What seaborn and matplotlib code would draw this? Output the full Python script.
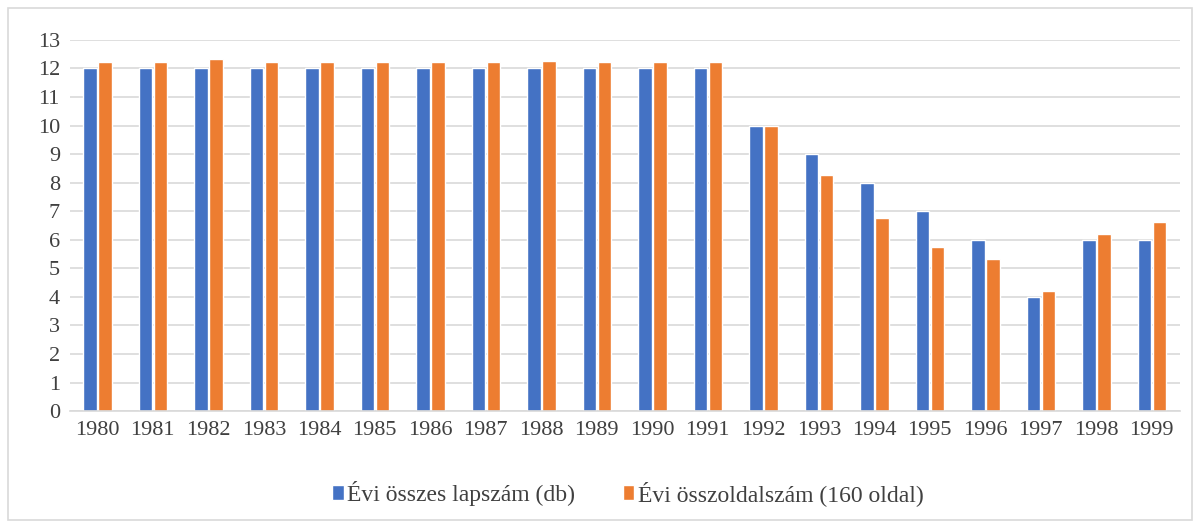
import matplotlib
matplotlib.use("Agg")
import matplotlib.pyplot as plt
import seaborn as sns
import pandas as pd

years = [str(y) for y in range(1980, 2000)]
lapszam = [12, 12, 12, 12, 12, 12, 12, 12, 12, 12, 12, 12,
           10, 9, 8, 7, 6, 4, 6, 6]
oldalszam = [12.22, 12.22, 12.32, 12.22, 12.22, 12.22, 12.22, 12.22, 12.26, 12.22,
             12.22, 12.22, 10.0, 8.28, 6.76, 5.74, 5.34, 4.21, 6.21, 6.62]
series_names = ["Évi összes lapszám (db)", "Évi összoldalszám (160 oldal)"]

COLOR_BLUE = "#4472C4"
COLOR_ORANGE = "#ED7D31"

df = pd.DataFrame({
    "year": years * 2,
    "value": lapszam + oldalszam,
    "series": [series_names[0]] * len(years) + [series_names[1]] * len(years),
})

sns.set_theme(style="white")
plt.rcParams["font.family"] = ["Liberation Serif", "DejaVu Serif"]

fig = plt.figure(figsize=(12, 5.25), dpi=100)
ax = fig.add_axes([0.058, 0.217, 0.925, 0.707])

sns.barplot(data=df, x="year", y="value", hue="series",
            palette=[COLOR_BLUE, COLOR_ORANGE], width=0.54, gap=0.1,
            saturation=1, ax=ax, legend=True)

ax.set_ylim(0, 13)
ax.set_yticks(range(0, 14))
ax.set_xlim(-0.5, len(years) - 0.5)
ax.yaxis.grid(True, color="#D9D9D9", linewidth=1.2)
ax.set_axisbelow(True)
for side in ["top", "right", "left"]:
    ax.spines[side].set_visible(False)
ax.spines["bottom"].set_color("#D9D9D9")
ax.spines["bottom"].set_linewidth(1.2)
ax.tick_params(axis="both", labelsize=16, colors="#404040", length=0, pad=7)
ax.set_xlabel("")
ax.set_ylabel("")

ax.legend(loc="upper center", bbox_to_anchor=(0.503, -0.13), ncol=2,
          frameon=False, fontsize=17, handlelength=0.5, handleheight=0.6,
          handletextpad=0.15, columnspacing=2.0, labelcolor="#404040")

# outer frame like the chart area border
fig.patches.append(plt.Rectangle((0.007, 0.01), 0.986, 0.975, transform=fig.transFigure,
                                 fill=False, edgecolor="#D9D9D9", linewidth=1.2))

fig.savefig("out.png", dpi=100)
